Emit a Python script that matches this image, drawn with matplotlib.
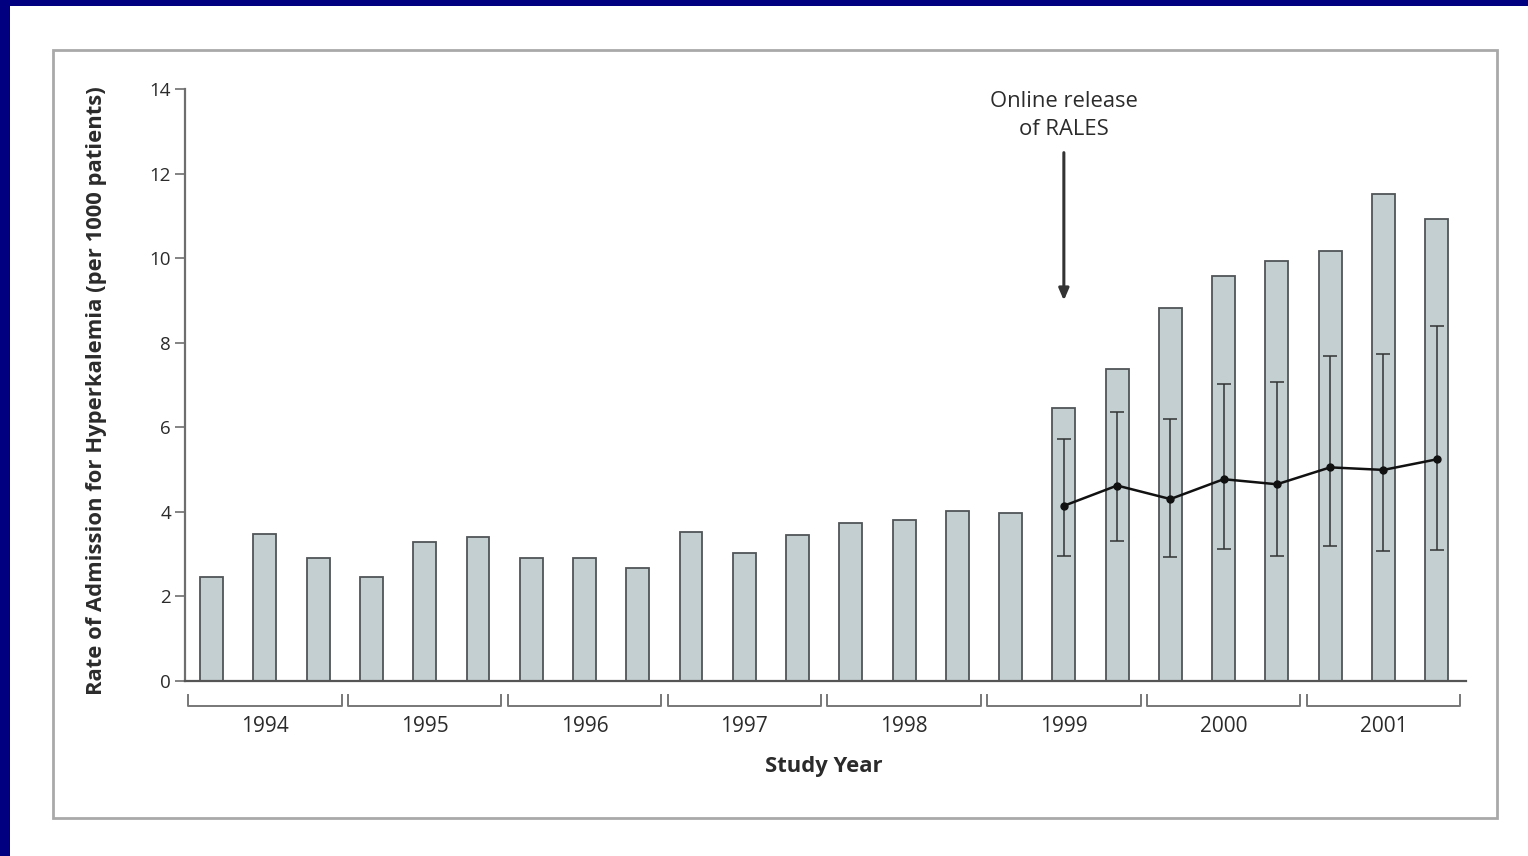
import matplotlib
matplotlib.use("Agg")
import matplotlib.pyplot as plt
from matplotlib.patches import Rectangle
import numpy as np

# --- Data: admission rates, 3 periods per study year ---
years = ["1994", "1995", "1996", "1997", "1998", "1999", "2000", "2001"]
periods_per_year = 3

observed_rate = [2.45, 3.47, 2.90,
                 2.46, 3.28, 3.40,
                 2.91, 2.91, 2.67,
                 3.51, 3.02, 3.46,
                 3.74, 3.80, 4.02,
                 3.96, 6.45, 7.37,
                 8.83, 9.59, 9.94,
                 10.17, 11.51, 10.94]

# expected rate (with 95% interval) after the RALES release
expected_start = 16
expected_rate = [4.14, 4.62, 4.30, 4.77, 4.65, 5.05, 4.99, 5.24]
expected_low = [2.95, 3.30, 2.92, 3.12, 2.95, 3.18, 3.08, 3.09]
expected_high = [5.71, 6.35, 6.20, 7.02, 7.06, 7.69, 7.74, 8.40]

annotation_text = "Online release\nof RALES"
arrow_top = 12.5
arrow_tip = 9.0

# --- Styling ---
BAR_FILL = "#c4cfd2"
BAR_EDGE = "#505558"
AXIS_GRAY = "#6e6e6e"
TEXT_DARK = "#2b2b2b"
NAVY = "#000080"
FONT = ["Open Sans", "DejaVu Sans"]

fig = plt.figure(figsize=(15.28, 8.56), dpi=100)
fig.patch.set_facecolor("white")

# navy slide border on top and left
fig.patches.append(Rectangle((0, 1 - 6 / 856), 1, 6 / 856, transform=fig.transFigure,
                             facecolor=NAVY, edgecolor="none", zorder=0))
fig.patches.append(Rectangle((0, 0), 10 / 1528, 1, transform=fig.transFigure,
                             facecolor=NAVY, edgecolor="none", zorder=0))
# gray frame around the figure panel
fig.patches.append(Rectangle((53 / 1528, 1 - 818 / 856), (1497 - 53) / 1528, (818 - 50) / 856,
                             transform=fig.transFigure, facecolor="none",
                             edgecolor="#a9a9a9", linewidth=2.0, zorder=1))

ax = fig.add_axes([185 / 1528, 1 - 680.7 / 856, (1466 - 185) / 1528, (680.7 - 89.3) / 856])
ax.set_facecolor("none")

x = np.arange(len(observed_rate))
ax.bar(x, observed_rate, width=0.43, color=BAR_FILL, edgecolor=BAR_EDGE,
       linewidth=1.3, zorder=2)

xe = x[expected_start:expected_start + len(expected_rate)]
exp = np.array(expected_rate)
yerr = [exp - np.array(expected_low), np.array(expected_high) - exp]
ax.errorbar(xe, exp, yerr=yerr, fmt="none", ecolor="#333333", elinewidth=1.1,
            capsize=5, capthick=1.1, zorder=3)
ax.plot(xe, exp, color="#111111", linewidth=1.8, marker="o", markersize=5, zorder=4)

ax.set_xlim(-0.5, len(observed_rate) - 0.45)
ax.set_ylim(0, 14)
ax.set_yticks(np.arange(0, 15, 2))
ax.set_xticks([])

for side in ("top", "right"):
    ax.spines[side].set_visible(False)
ax.spines["left"].set_color(AXIS_GRAY)
ax.spines["bottom"].set_color("#555555")
ax.spines["left"].set_linewidth(1.6)
ax.spines["bottom"].set_linewidth(1.6)
ax.tick_params(axis="y", direction="out", length=7, width=1.2, color=AXIS_GRAY,
               labelsize=13.5, labelcolor=TEXT_DARK, pad=3)
for lbl in ax.get_yticklabels():
    lbl.set_family(FONT)

ax.set_ylabel("Rate of Admission for Hyperkalemia (per 1000 patients)",
              fontsize=15.8, fontweight="bold", color=TEXT_DARK, family=FONT)
ax.yaxis.set_label_coords(-0.061, 0.49)

# year brackets below the axis
trans = ax.get_xaxis_transform()
br_y = -0.043
br_h = 0.018
for i, yr in enumerate(years):
    x0 = i * periods_per_year - 0.44
    x1 = i * periods_per_year + periods_per_year - 1 + 0.44
    ax.plot([x0, x0, x1, x1], [br_y + br_h, br_y, br_y, br_y + br_h], color="#777777",
            linewidth=1.4, transform=trans, clip_on=False)
    ax.text((x0 + x1) / 2, br_y - 0.016, yr, transform=trans, ha="center", va="top",
            fontsize=15, color=TEXT_DARK, family=FONT)

ax.text(11.5, -0.128, "Study Year", transform=trans, ha="center", va="top",
        fontsize=15.8, fontweight="bold", color=TEXT_DARK, family=FONT)

# RALES release marker
ax.annotate("", xy=(expected_start, arrow_tip), xytext=(expected_start, arrow_top),
            arrowprops=dict(arrowstyle="-|>,head_length=0.7,head_width=0.3",
                            color="#333333", linewidth=2.2, shrinkA=0, shrinkB=0))
ax.text(expected_start, 13.38, annotation_text, ha="center", va="center",
        fontsize=15.8, color=TEXT_DARK, family=FONT, linespacing=1.45)

fig.savefig("out.png", dpi=100, facecolor=fig.get_facecolor())
